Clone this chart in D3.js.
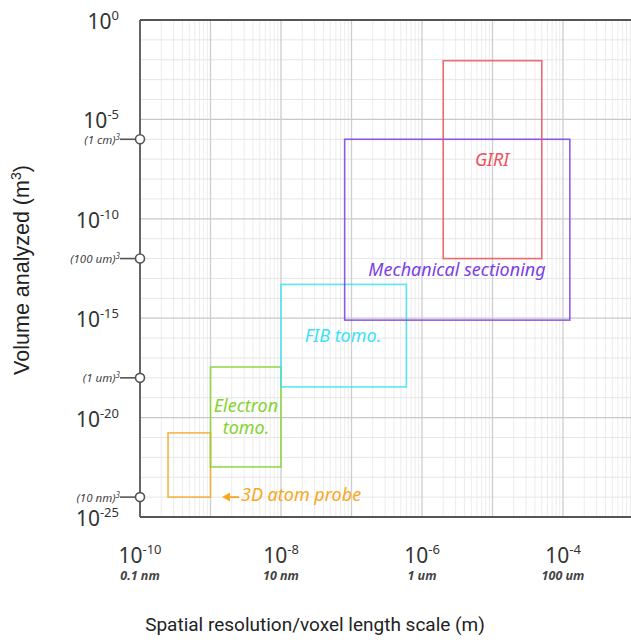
<!DOCTYPE html>
<html><head><meta charset="utf-8">
<script src="https://cdn.jsdelivr.net/npm/d3@7"></script>
<style>
body{margin:0;background:#fff;}
svg{display:block;font-family:"Noto Sans",sans-serif;}
</style></head>
<body>
<svg id="chart" width="631" height="642"></svg>
<script>
// ---- data ----
const techniques = ["3D atom probe","Electron tomo.","FIB tomo.","Mechanical sectioning","GIRI"];
const resMin = [2.5e-10, 1e-9, 1e-8, 8e-8, 2e-6];
const resMax = [1e-9, 1e-8, 6e-7, 1.25e-4, 5e-5];
const volMin = [1e-24, 3.3e-23, 3.5e-19, 8e-16, 1e-12];
const volMax = [1.7e-21, 3.5e-18, 5e-14, 1e-6, 9e-3];
const colors = ["#f7a823","#84d32e","#3ae3f3","#7b3fe4","#f0505a"];

const xTickExp = [-10, -8, -6, -4];
const xTickSub = ["0.1 nm", "10 nm", "1 um", "100 um"];
const yTickExp = [0, -5, -10, -15, -20, -25];
const refVolumes = [1e-6, 1e-12, 1e-18, 1e-24];
const refLabels = ["(1 cm)", "(100 um)", "(1 um)", "(10 nm)"];

// ---- layout ----
const svg = d3.select("#chart");
const pL = 140, pT = 20, pB = 517, pR = 633.5;
const x = d3.scaleLog().domain([1e-10, 1e-3]).range([pL, pR]);
const y = d3.scaleLog().domain([1e-25, 1]).range([pB, pT]);

const grid = svg.append("g");
for (let e = -10; e < -3; e++) {
  for (let m = 2; m <= 9; m++) {
    const v = m * Math.pow(10, e);
    grid.append("line").attr("x1", x(v)).attr("x2", x(v)).attr("y1", pT).attr("y2", pB)
      .attr("stroke", "#ececec").attr("stroke-width", 1);
  }
}
for (let e = -24; e < 0; e++) {
  const v = Math.pow(10, e);
  const major = e % 5 === 0;
  grid.append("line").attr("x1", pL).attr("x2", pR).attr("y1", y(v)).attr("y2", y(v))
    .attr("stroke", major ? "#c8c8c8" : "#e6e6e6").attr("stroke-width", major ? 1.3 : 1);
}
for (let e = -9; e <= -3; e++) {
  const v = Math.pow(10, e);
  grid.append("line").attr("x1", x(v)).attr("x2", x(v)).attr("y1", pT).attr("y2", pB)
    .attr("stroke", "#cdcdcd").attr("stroke-width", 1.3);
}

// frame
const frame = [[pL, pT, pR, pT], [pL, pB, pR, pB], [pL, pT, pL, pB]];
frame.forEach(f => svg.append("line").attr("x1", f[0]).attr("y1", f[1]).attr("x2", f[2]).attr("y2", f[3])
  .attr("stroke", "#555").attr("stroke-width", 1.8));

// boxes
techniques.forEach((t, i) => {
  svg.append("rect")
    .attr("x", x(resMin[i])).attr("y", y(volMax[i]))
    .attr("width", x(resMax[i]) - x(resMin[i]))
    .attr("height", y(volMin[i]) - y(volMax[i]))
    .attr("fill", "none").attr("stroke", colors[i]).attr("stroke-width", 1.6)
    .attr("stroke-opacity", 0.85);
});

function label(txt, xv, yv, color, anchor) {
  return svg.append("text").attr("x", xv).attr("y", yv).attr("fill", color)
    .attr("font-size", 18).attr("font-style", "italic").attr("text-anchor", anchor || "middle")
    .text(txt);
}
label("GIRI", 492, 166, colors[4]);
label("Mechanical sectioning", 457, 276, colors[3]);
label("FIB tomo.", 343, 342, colors[2]);
label("Electron", 246, 412, colors[1]);
label("tomo.", 246, 434, colors[1]);
label("3D atom probe", 241, 501, colors[0], "start");
// arrow
const ay = y(refVolumes[3]);
svg.append("line").attr("x1", 228).attr("x2", 239).attr("y1", ay).attr("y2", ay)
  .attr("stroke", colors[0]).attr("stroke-width", 1.8);
svg.append("path").attr("d", `M222,${ay} L230,${ay - 4.5} L230,${ay + 4.5} Z`).attr("fill", colors[0]);

yTickExp.forEach(e => {
  const t = svg.append("text").attr("x", 119).attr("y", y(Math.pow(10, e)) + 9)
    .attr("text-anchor", "end").attr("font-size", 21).attr("fill", "#333");
  t.append("tspan").text("10");
  t.append("tspan").attr("dy", -9).attr("font-size", 13).text(String(e));
});

refVolumes.forEach((v, i) => {
  const yy = y(v);
  svg.append("line").attr("x1", 120).attr("x2", pL).attr("y1", yy).attr("y2", yy)
    .attr("stroke", "#555").attr("stroke-width", 1.6);
  const t = svg.append("text").attr("x", 120).attr("y", yy + 4.5).attr("text-anchor", "end")
    .attr("font-size", 11.5).attr("font-style", "italic").attr("fill", "#444");
  t.append("tspan").text(refLabels[i]);
  t.append("tspan").attr("dy", -4).attr("font-size", 8).text("3");
  svg.append("circle").attr("cx", pL).attr("cy", yy).attr("r", 4.5)
    .attr("fill", "#fff").attr("stroke", "#555").attr("stroke-width", 1.6);
});

xTickExp.forEach((e, i) => {
  const xx = x(Math.pow(10, e));
  const t = svg.append("text").attr("x", xx).attr("y", 563).attr("text-anchor", "middle")
    .attr("font-size", 21).attr("fill", "#333");
  t.append("tspan").text("10");
  t.append("tspan").attr("dy", -9).attr("font-size", 13).text(String(e));
  svg.append("text").attr("x", xx).attr("y", 580).attr("text-anchor", "middle")
    .attr("font-size", 12.5).attr("font-style", "italic").attr("font-weight", "bold")
    .attr("fill", "#444").text(xTickSub[i]);
});

svg.append("text").attr("x", 315).attr("y", 631).attr("text-anchor", "middle")
  .attr("font-size", 19).attr("fill", "#222")
  .attr("font-family", "Roboto, sans-serif")
  .text("Spatial resolution/voxel length scale (m)");
const yt = svg.append("text").attr("transform", "translate(29,270) rotate(-90)")
  .attr("text-anchor", "middle").attr("font-size", 21.5).attr("fill", "#222")
  .attr("font-family", "Liberation Sans, Arial, sans-serif");
yt.append("tspan").text("Volume analyzed (m");
yt.append("tspan").attr("dy", -8).attr("font-size", 14).text("3");
yt.append("tspan").attr("dy", 8).text(")");
</script>
</body></html>
